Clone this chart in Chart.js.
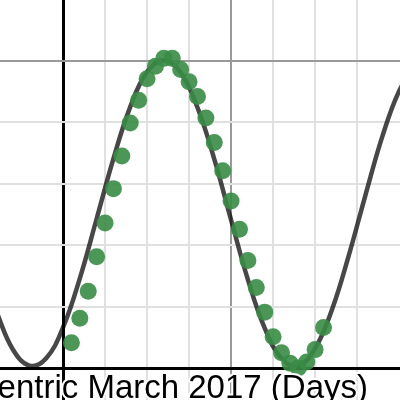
<!DOCTYPE html>
<html>
<head>
<meta charset="utf-8">
<script src="https://cdn.jsdelivr.net/npm/chart.js@4.4.1/dist/chart.umd.min.js"></script>
<style>
  html, body { margin: 0; padding: 0; background: #fff; }
  #wrap { width: 400px; height: 400px; position: relative; }
</style>
</head>
<body>
<div id="wrap"><canvas id="chart"></canvas></div>
<script>
// observed values: day of March 2017
const days = [1, 2, 3, 4, 5, 6, 7, 8, 9, 10, 11, 12, 13, 14, 15, 16,
              17, 18, 19, 20, 21, 22, 23, 24, 25, 26, 27, 28, 29, 30, 31];
const observed = [0.41, 0.81, 1.25, 1.81, 2.36, 2.92, 3.45, 3.99, 4.36, 4.71, 4.91, 5.04, 5.04, 4.86, 4.66, 4.42,
                  4.07, 3.67, 3.21, 2.72, 2.26, 1.75, 1.31, 0.91, 0.51, 0.25, 0.08, 0.00, 0.10, 0.30, 0.66];

// model curve, every 2 days
const curveDays = [-8, -6, -4, -2, 0, 2, 4, 6, 8, 10, 12, 14, 16, 18, 20,
                   22, 24, 26, 28, 30, 32, 34, 36, 38, 40, 42];
const curveValues = [0.94, 0.31, 0.04, 0.16, 0.66, 1.46, 2.43, 3.41, 4.25, 4.82, 5.01, 4.81, 4.24, 3.40, 2.41,
                     1.44, 0.65, 0.16, 0.04, 0.32, 0.95, 1.83, 2.82, 3.77, 4.51, 4.94];

const axisTitle = 'Geocentric March 2017 (Days)';

const toPoints = (xs, ys) => xs.map((x, i) => ({ x: x, y: ys[i] }));

// axis label drawn over the plot with a white halo
const labelPlugin = {
    id: 'bottomLabel',
    afterDraw(chart) {
        const ctx = chart.ctx;
        ctx.save();
        ctx.font = '33px "Liberation Sans", Arial, sans-serif';
        ctx.textAlign = 'right';
        ctx.textBaseline = 'alphabetic';
        ctx.lineJoin = 'round';
        ctx.strokeStyle = '#fff';
        ctx.lineWidth = 4;
        ctx.strokeText(axisTitle, 368, 398);
        ctx.fillStyle = '#000';
        ctx.fillText(axisTitle, 368, 398);
        ctx.restore();
    }
};

function gridColor(ctx, majorEvery) {
    const v = ctx.tick.value;
    if (Math.abs(v) < 1e-9) return '#000';
    if (Math.abs(v % majorEvery) < 1e-9) return '#999';
    if (Math.abs(v - Math.round(v)) > 1e-9) return 'rgba(0,0,0,0)';
    return '#e0e0e0';
}

function gridWidth(ctx) {
    return Math.abs(ctx.tick.value) < 1e-9 ? 3 : 2;
}

new Chart(document.getElementById('chart'), {
    type: 'scatter',
    data: {
        datasets: [{
            label: 'observed',
            data: toPoints(days, observed),
            pointRadius: 8.5,
            pointHoverRadius: 8.5,
            pointBackgroundColor: 'rgba(56,140,70,0.9)',
            pointBorderWidth: 0,
            showLine: false,
            order: 0
        }, {
            label: 'model',
            data: toPoints(curveDays, curveValues),
            showLine: true,
            pointRadius: 0,
            borderColor: 'rgba(0,0,0,0.72)',
            borderWidth: 4.5,
            tension: 0.4,
            order: 1
        }]
    },
    options: {
        responsive: true,
        maintainAspectRatio: false,
        animation: false,
        layout: { padding: 0, autoPadding: false },
        plugins: {
            legend: { display: false },
            tooltip: { enabled: false }
        },
        scales: {
            x: {
                type: 'linear',
                min: -7.5,
                max: 40.1,
                ticks: { display: false, stepSize: 5 },
                grid: {
                    drawTicks: false,
                    color: ctx => {
                        const v = ctx.tick.value;
                        if (Math.abs(v % 5) > 1e-9) return 'rgba(0,0,0,0)';
                        return gridColor(ctx, 20);
                    },
                    lineWidth: gridWidth
                },
                border: { display: false }
            },
            y: {
                type: 'linear',
                min: -0.52,
                max: 5.99,
                ticks: { display: false, stepSize: 1 },
                grid: {
                    drawTicks: false,
                    color: ctx => gridColor(ctx, 5),
                    lineWidth: gridWidth
                },
                border: { display: false }
            }
        }
    },
    plugins: [labelPlugin]
});
</script>
</body>
</html>
